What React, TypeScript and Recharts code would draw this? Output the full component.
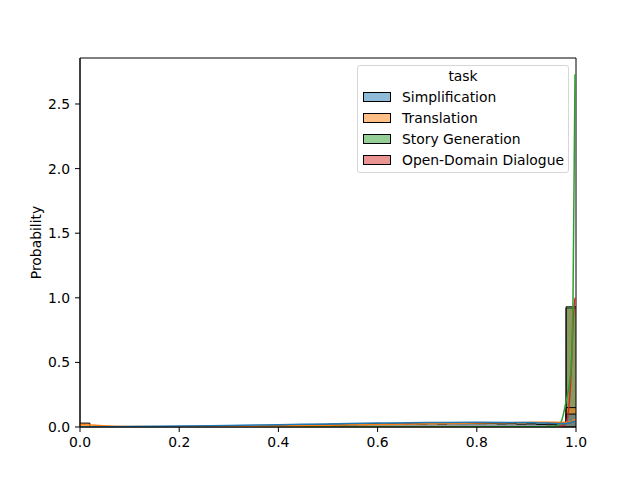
import React from "react"
import {
  ComposedChart,
  Area,
  Line,
  XAxis,
  YAxis,
  Legend,
  ReferenceArea,
} from "recharts"

const tasks = ["Simplification", "Translation", "Story Generation", "Open-Domain Dialogue"]
const taskColors = ["#1f77b4", "#ff7f0e", "#2ca02c", "#d62728"]
const legendFills = ["rgba(31,119,180,0.5)", "rgba(255,127,14,0.5)", "rgba(44,160,44,0.5)", "rgba(214,39,40,0.5)"]

// histogram bin edges (0.02 wide)
const binEdges = [
  0, 0.02, 0.04, 0.06, 0.08, 0.1, 0.12, 0.14, 0.16, 0.18,
  0.2, 0.22, 0.24, 0.26, 0.28, 0.3, 0.32, 0.34, 0.36, 0.38,
  0.4, 0.42, 0.44, 0.46, 0.48, 0.5, 0.52, 0.54, 0.56, 0.58,
  0.6, 0.62, 0.64, 0.66, 0.68, 0.7, 0.72, 0.74, 0.76, 0.78,
  0.8, 0.82, 0.84, 0.86, 0.88, 0.9, 0.92, 0.94, 0.96, 0.98, 1.0,
]

const simplificationHist = [
  0, 0, 0, 0, 0, 0, 0, 0, 0, 0,
  0, 0, 0.004, 0, 0.004, 0.004, 0.006, 0.006, 0.008, 0.01,
  0.012, 0.014, 0.016, 0.018, 0.02, 0.022, 0.02, 0.024, 0.022, 0.026,
  0.024, 0.026, 0.024, 0.028, 0.026, 0.028, 0.024, 0.028, 0.026, 0.028,
  0.026, 0.028, 0.024, 0.026, 0.022, 0.024, 0.02, 0.018, 0.03, 0.1,
]
const translationHist = [
  0.03, 0.004, 0, 0, 0, 0, 0, 0, 0, 0,
  0, 0, 0, 0, 0, 0.002, 0, 0.004, 0, 0.004,
  0.006, 0.006, 0.008, 0.01, 0.01, 0.012, 0.014, 0.016, 0.018, 0.02,
  0.02, 0.02, 0.022, 0.024, 0.022, 0.026, 0.024, 0.026, 0.028, 0.026,
  0.03, 0.028, 0.032, 0.03, 0.034, 0.032, 0.034, 0.03, 0.035, 0.15,
]
const storyHist = [
  0, 0, 0, 0, 0, 0, 0, 0, 0, 0,
  0, 0, 0, 0, 0, 0, 0, 0, 0, 0,
  0, 0, 0, 0, 0, 0, 0, 0, 0, 0,
  0, 0, 0, 0, 0, 0, 0, 0, 0, 0,
  0, 0, 0, 0, 0, 0, 0, 0.004, 0.035, 0.93,
]
const dialogueHist = [
  0, 0, 0, 0, 0, 0, 0, 0, 0, 0,
  0, 0, 0, 0, 0, 0, 0, 0, 0, 0,
  0, 0, 0, 0, 0, 0, 0, 0, 0, 0,
  0, 0, 0, 0, 0, 0, 0, 0, 0, 0,
  0, 0, 0, 0, 0, 0, 0, 0, 0.02, 0.92,
]

// kde curves (grid ends just short of 1.0)
const kdeX = [0, 0.1, 0.2, 0.3, 0.4, 0.5, 0.6, 0.7, 0.8, 0.9, 0.94, 0.96, 0.97, 0.98, 0.99, 0.994, 0.998]
const simplificationKde = [0, 0.003, 0.007, 0.012, 0.018, 0.024, 0.03, 0.034, 0.036, 0.034, 0.03, 0.028, 0.027, 0.028, 0.035, 0.04, 0.045]
const translationKde = [0.02, 0.004, 0.002, 0.004, 0.008, 0.014, 0.02, 0.025, 0.03, 0.035, 0.037, 0.036, 0.035, 0.035, 0.04, 0.05, 0.06]
const storyKde = [0, 0, 0, 0, 0, 0, 0, 0, 0.001, 0.001, 0.002, 0.005, 0.04, 0.2, 0.45, 1.0, 2.73]
const dialogueKde = [0, 0, 0, 0, 0, 0, 0, 0, 0, 0, 0, 0.002, 0.005, 0.03, 0.4, 0.8, 1.0]

const xTicks = [0, 0.2, 0.4, 0.6, 0.8, 1.0]
const yTicks = [0, 0.5, 1.0, 1.5, 2.0, 2.5]
const yMax = 2.856

const hists = [simplificationHist, translationHist, storyHist, dialogueHist]
const kdes = [simplificationKde, translationKde, storyKde, dialogueKde]

const near = (a: number, b: number) => Math.abs(a - b) < 1e-9

const allX = [...binEdges, ...kdeX.filter((x) => !binEdges.some((e) => near(e, x)))].sort((a, b) => a - b)

const rows = allX.map((x) => {
  const row: Record<string, number | null> = { x }
  const bi = binEdges.findIndex((e) => near(e, x))
  const ki = kdeX.findIndex((k) => near(k, x))
  hists.forEach((h, t) => {
    row["h" + t] = bi >= 0 ? h[Math.min(bi, h.length - 1)] : null
  })
  kdes.forEach((k, t) => {
    row["k" + t] = ki >= 0 ? k[ki] : null
  })
  return row
})

const font = "DejaVu Sans"
const tickStyle = { fill: "#000", fontSize: 13.9, fontFamily: font }

function TaskLegend() {
  return (
    <div
      style={{
        position: "relative",
        boxSizing: "border-box",
        width: 212,
        height: 108,
        border: "1px solid #d6d6d6",
        borderRadius: 3,
        background: "rgba(255,255,255,0.8)",
        fontFamily: font,
        fontSize: 13.9,
        color: "#000",
      }}
    >
      <div style={{ position: "absolute", top: 2, left: 0, width: "100%", textAlign: "center", lineHeight: "16px" }}>
        task
      </div>
      {tasks.map((t, i) => (
        <div key={t}>
          <div
            style={{
              position: "absolute",
              left: 5,
              top: 26 + i * 21,
              width: 28,
              height: 10,
              boxSizing: "border-box",
              border: "1px solid #000",
              background: legendFills[i],
            }}
          />
          <div style={{ position: "absolute", left: 44, top: 23 + i * 21, lineHeight: "16px", whiteSpace: "nowrap" }}>
            {t}
          </div>
        </div>
      ))}
    </div>
  )
}

// seaborn layers hue levels in reverse
const drawOrder = [3, 2, 1, 0]

export default function App() {
  return (
    <div style={{ position: "absolute", left: 0, top: 0, width: 640, height: 480, background: "#fff" }}>
      <ComposedChart width={640} height={480} data={rows} margin={{ top: 58, right: 64, bottom: 23, left: 0 }}>
        <XAxis
          dataKey="x"
          type="number"
          domain={[0, 1]}
          ticks={xTicks}
          allowDataOverflow
          tickFormatter={(v: number) => v.toFixed(1)}
          tick={tickStyle}
          tickSize={5}
          tickMargin={5}
          height={30}
          axisLine={{ stroke: "#000" }}
          tickLine={{ stroke: "#000" }}
        />
        <YAxis
          type="number"
          domain={[0, yMax]}
          ticks={yTicks}
          allowDataOverflow
          tickFormatter={(v: number) => v.toFixed(1)}
          tick={tickStyle}
          tickSize={5}
          tickMargin={5}
          width={80}
          axisLine={{ stroke: "#000" }}
          tickLine={{ stroke: "#000" }}
          label={{
            content: (props: any) => {
              const vb = props.viewBox || { x: 0, y: 58, width: 80, height: 369 }
              const cx = vb.x + vb.width - 44
              const cy = vb.y + vb.height / 2
              return (
                <text
                  x={cx}
                  y={cy}
                  transform={`rotate(-90, ${cx}, ${cy})`}
                  textAnchor="middle"
                  dominantBaseline="central"
                  fontFamily={font}
                  fontSize={13.9}
                  fill="#000"
                >
                  Probability
                </text>
              )
            },
          }}
        />
        {drawOrder.map((t) => (
          <Area
            key={"h" + t}
            dataKey={"h" + t}
            type="stepAfter"
            fill={taskColors[t]}
            fillOpacity={0.5}
            stroke="#000"
            strokeWidth={1}
            connectNulls
            dot={false}
            activeDot={false}
            isAnimationActive={false}
          />
        ))}
        {drawOrder.map((t) => (
          <Line
            key={"k" + t}
            dataKey={"k" + t}
            type="monotone"
            stroke={taskColors[t]}
            strokeWidth={1.5}
            connectNulls
            dot={false}
            activeDot={false}
            isAnimationActive={false}
          />
        ))}
        {/* axes frame (top/right spines) */}
        <ReferenceArea x1={0} x2={1} y1={0} y2={yMax} fill="none" fillOpacity={0} stroke="#000" strokeWidth={1} />
        <Legend
          layout="vertical"
          align="center"
          verticalAlign="middle"
          content={() => <TaskLegend />}
          wrapperStyle={{ left: 357, top: 65, width: 212, height: 108 }}
        />
      </ComposedChart>
    </div>
  )
}
